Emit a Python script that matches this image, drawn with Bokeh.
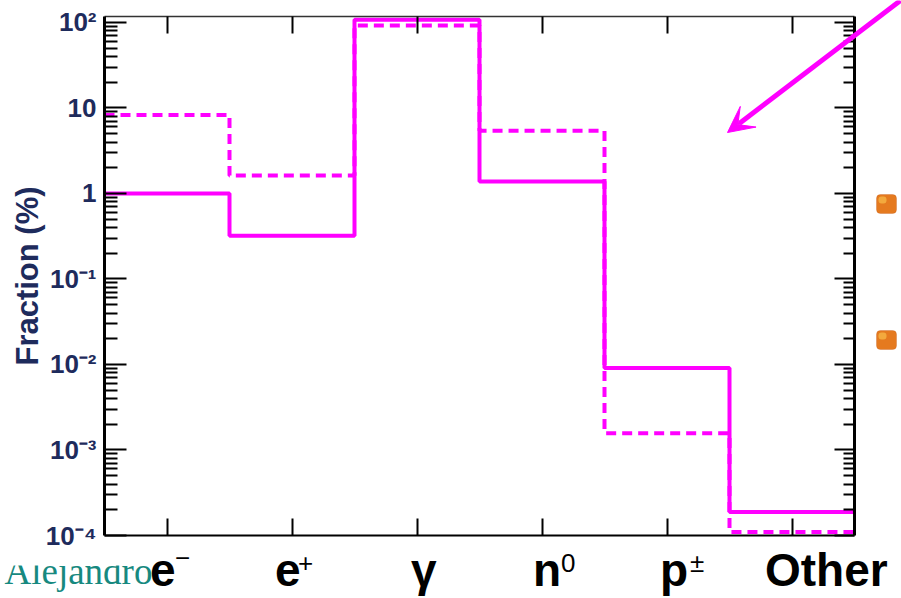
import numpy as np
from bokeh.plotting import figure
from bokeh.models import (FixedTicker, LogAxis, LinearAxis, CustomJSTickFormatter,
                          Label, Arrow, VeeHead, BoxAnnotation, Range1d)
from bokeh.embed import file_html
from bokeh.resources import INLINE

# ---------------- data ----------------
categories = ["e", "e", "γ", "n", "p", "Other"]
superscripts = ["−", "+", "", "0", "±", ""]
solid_frac = [1.0, 0.32, 108.0, 1.38, 0.0091, 1.88e-4]
dashed_frac = [8.3, 1.62, 92.0, 5.4, 0.00157, 1.1e-4]
y_tick_values = [1e-4, 1e-3, 1e-2, 1e-1, 1, 10, 100]
y_tick_labels = ["10⁻⁴", "10⁻³", "10⁻²", "10⁻¹", "1", "10", "10²"]
y_axis_title = "Fraction (%)"
footer_text = "Alejandro"

# ---------------- layout / style ----------------
W, H = 901, 598
CL, CR, CT, CB = 104, 854, 16, 535         # chart box in page px
YMIN, YMAX = 1e-4, 10 ** 2.07
MAGENTA = "#ff00ff"
NAVY = "#1e2b5c"
BOLD_FONT = "Liberation Sans"
label_dx = [-17, -17, -6, -9, -7, -27]     # px offset of each category label from its tick
sup_dx = [8, 6, 0, 19, 23, 0]              # px offset of superscripts from the tick
sup_dy = [-5, 0, 0, 0, 0, 0]               # px vertical nudge of superscripts
LABEL_Y_PX, SUP_Y_PX, FOOT_Y_PX = 569, 562, 571
n = len(categories)
PX_PER_CAT = (CR - CL) / n

def px_to_x(px):
    return -0.5 + (px - CL) / PX_PER_CAT

def py_to_y(py):
    lo, hi = np.log10(YMIN), np.log10(YMAX)
    return 10 ** (hi - (py - CT) / (CB - CT) * (hi - lo))

p = figure(width=W, height=H,
           x_range=Range1d(px_to_x(0), px_to_x(W)),
           y_range=Range1d(py_to_y(H), py_to_y(0)),
           y_axis_type="log", output_backend="svg", toolbar_location=None,
           min_border=0, background_fill_color="white", border_fill_color="white")
p.grid.visible = False
p.outline_line_color = None

# ---------------- histograms ----------------
edges = np.arange(n + 1) - 0.5
p.step(edges, dashed_frac + [dashed_frac[-1]], mode="after", line_color=MAGENTA,
       line_width=4, line_dash="10 6")
p.step(edges, solid_frac + [solid_frac[-1]], mode="after", line_color=MAGENTA, line_width=4)

# ---------------- axes (drawn at the chart box edges) ----------------
minor = [m * 10.0 ** k for k in range(-4, 2) for m in range(2, 10)]
yticker = FixedTicker(ticks=y_tick_values, minor_ticks=minor)
xticker = FixedTicker(ticks=list(range(n)), minor_ticks=[])
empty_fmt = CustomJSTickFormatter(code="return ''")

ya = p.yaxis[0]
ya.fixed_location = -0.5
ya.bounds = (YMIN, YMAX)
ya.ticker = yticker
ya.formatter = CustomJSTickFormatter(args=dict(vals=y_tick_values, labels=y_tick_labels), code="""
for (let i = 0; i < vals.length; i++) {
  if (Math.abs(Math.log10(vals[i]) - Math.log10(tick)) < 1e-6) return labels[i];
}
return '';
""")
ya.major_tick_in = 22
ya.major_tick_out = 0
ya.minor_tick_in = 13
ya.minor_tick_out = 0
ya.axis_line_width = 3
ya.major_tick_line_width = 2
ya.minor_tick_line_width = 2
ya.major_label_text_font = BOLD_FONT
ya.major_label_text_font_size = "26px"
ya.major_label_text_font_style = "bold"
ya.major_label_text_color = NAVY
ya.major_label_standoff = 8
ya.axis_label = y_axis_title
ya.axis_label_text_font = BOLD_FONT
ya.axis_label_text_font_size = "31px"
ya.axis_label_text_font_style = "bold"
ya.axis_label_text_color = NAVY
ya.axis_label_standoff = -2

ra = LogAxis(ticker=yticker, formatter=empty_fmt, fixed_location=n - 0.5, bounds=(YMIN, YMAX),
             major_tick_in=20, major_tick_out=0, minor_tick_in=11, minor_tick_out=0,
             axis_line_width=3, major_tick_line_width=2, minor_tick_line_width=2,
             major_label_text_font_size="1px", major_label_standoff=0)
p.add_layout(ra, "right")

xa = p.xaxis[0]
xa.fixed_location = YMIN
xa.bounds = (-0.5, n - 0.5)
xa.ticker = xticker
xa.formatter = empty_fmt
xa.major_tick_in = 17
xa.major_tick_out = 0
xa.axis_line_width = 2
xa.major_tick_line_width = 2
xa.major_label_text_font_size = "1px"
xa.major_label_standoff = 0

ta = LinearAxis(ticker=xticker, formatter=empty_fmt, fixed_location=YMAX, bounds=(-0.5, n - 0.5),
                major_tick_in=17, major_tick_out=0, axis_line_width=1.5, axis_line_color="#333333",
                major_tick_line_width=2, major_label_text_font_size="1px", major_label_standoff=0)
p.add_layout(ta, "above")

# ---------------- category labels ----------------
for i in range(n):
    p.add_layout(Label(x=i + label_dx[i] / PX_PER_CAT, y=py_to_y(LABEL_Y_PX), text=categories[i],
                       text_font=BOLD_FONT, text_font_style="bold", text_font_size="46px",
                       text_color="black", text_align="left", text_baseline="alphabetic"))
    if superscripts[i]:
        p.add_layout(Label(x=i + sup_dx[i] / PX_PER_CAT, y=py_to_y(SUP_Y_PX + sup_dy[i]),
                           text=superscripts[i], text_font=BOLD_FONT, text_font_size="26px",
                           text_color="black", text_align="left", text_baseline="alphabetic"))

# ---------------- slide decorations ----------------
p.add_layout(Label(x=px_to_x(4), y=py_to_y(FOOT_Y_PX), text=footer_text, text_font="Liberation Serif",
                   text_font_size="37px", text_color="#17897f", text_align="left",
                   text_baseline="alphabetic"))
p.add_layout(BoxAnnotation(left=px_to_x(0), right=px_to_x(150), top=py_to_y(548),
                           bottom=py_to_y(565), fill_color="white", fill_alpha=1, line_color=None))

for top_px in (194, 330):
    p.add_layout(BoxAnnotation(left=px_to_x(876), right=px_to_x(896), top=py_to_y(top_px),
                               bottom=py_to_y(top_px + 19), fill_color="#e57a1f", fill_alpha=1,
                               line_color="#c0581a", line_width=1, border_radius=4))
    p.add_layout(BoxAnnotation(left=px_to_x(878), right=px_to_x(886), top=py_to_y(top_px + 2),
                               bottom=py_to_y(top_px + 9), fill_color="#f6b545", fill_alpha=0.8,
                               line_color=None, border_radius=3))

p.add_layout(Arrow(end=VeeHead(size=26, fill_color=MAGENTA, line_color=MAGENTA),
                   x_start=px_to_x(900), y_start=py_to_y(0), x_end=px_to_x(727),
                   y_end=py_to_y(132), line_color=MAGENTA, line_width=5))

open("out.html", "w").write(file_html(p, INLINE))
